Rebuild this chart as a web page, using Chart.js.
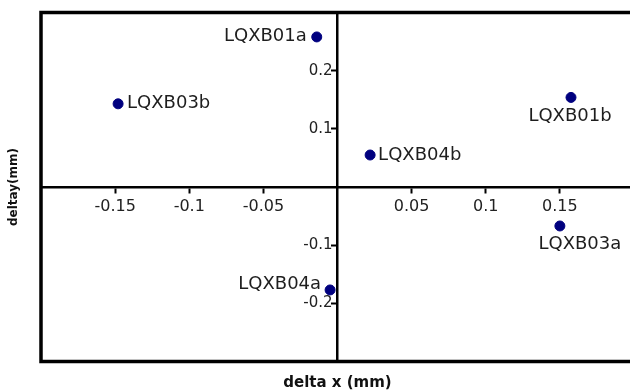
<!DOCTYPE html>
<html>
<head>
<meta charset="utf-8">
<script src="https://cdn.jsdelivr.net/npm/chart.js@4/dist/chart.umd.min.js"></script>
<style>
    html, body { margin: 0; padding: 0; background: #fff; overflow: hidden; }
    #wrap { position: relative; width: 640px; height: 392px; }
</style>
</head>
<body>
<div id="wrap"><canvas id="chart"></canvas></div>
<script>
// readings (mm)
const pointNames = ["LQXB01a", "LQXB03b", "LQXB01b", "LQXB04b", "LQXB03a", "LQXB04a"];
const deltaX = [-0.014, -0.148, 0.1575, 0.022, 0.150, -0.005];
const deltaY = [0.258, 0.143, 0.154, 0.055, -0.067, -0.177];
const xTicks = [-0.15, -0.1, -0.05, 0.05, 0.1, 0.15];
const yTicks = [-0.2, -0.1, 0.1, 0.2];
const xTitle = "delta x (mm)";
const yTitle = "deltay(mm)";

// where each name sits next to its dot: [align, dx, dy]
const labelPlace = [
    ["right", -10, -1],
    ["left", 9, 0],
    ["center", -1, 19],
    ["left", 8, 0],
    ["center", 20, 18],
    ["right", -9, -6]
];

const FONT = "'DejaVu Sans', sans-serif";

const pointLabels = {
    id: "pointLabels",
    afterDatasetsDraw(chart) {
        const ctx = chart.ctx;
        const meta = chart.getDatasetMeta(0);
        ctx.save();
        ctx.font = "18px " + FONT;
        ctx.fillStyle = "#1e1e1e";
        ctx.textBaseline = "middle";
        meta.data.forEach((el, i) => {
            const p = labelPlace[i];
            ctx.textAlign = p[0];
            ctx.fillText(pointNames[i], el.x + p[1], el.y + p[2]);
        });
        ctx.restore();
    }
};

const frame = {
    id: "frame",
    afterDraw(chart) {
        const a = chart.chartArea;
        const ctx = chart.ctx;
        ctx.save();
        ctx.strokeStyle = "#000";
        ctx.lineWidth = 3.5;
        ctx.strokeRect(a.left, a.top, a.right - a.left, a.bottom - a.top);
        ctx.restore();
    }
};

const hiddenAxis = (pos, title, size, pad) => ({
    type: "linear",
    position: pos,
    min: -1, max: 1,
    grid: { display: false, drawTicks: false },
    border: { display: false },
    ticks: { display: false },
    title: {
        display: true,
        text: title,
        color: "#111",
        font: { family: FONT, size: size, weight: "bold", lineHeight: 1.2 },
        padding: pad
    }
});

// both ranges are symmetric, so "center" puts each axis on zero
new Chart(document.getElementById("chart").getContext("2d"), {
    type: "scatter",
    data: {
        datasets: [{
            data: deltaX.map((x, i) => ({ x: x, y: deltaY[i] })),
            backgroundColor: "#00007f",
            borderColor: "#00007f",
            pointRadius: 5,
            pointHoverRadius: 5
        }]
    },
    options: {
        responsive: true,
        maintainAspectRatio: false,
        animation: false,
        events: [],
        layout: { padding: { left: 0, right: 6, top: 12.5, bottom: 0 } },
        plugins: { legend: { display: false }, tooltip: { enabled: false } },
        scales: {
            x: {
                type: "linear",
                min: -0.2, max: 0.2,
                position: "center",
                afterBuildTicks: s => { s.ticks = xTicks.map(v => ({ value: v })); },
                grid: { drawOnChartArea: false, drawTicks: true, tickLength: 5, tickWidth: 2, tickColor: "#000" },
                border: { color: "#000", width: 2.5 },
                ticks: {
                    color: "#222",
                    padding: 5,
                    maxRotation: 0,
                    autoSkip: false,
                    font: { family: FONT, size: 16 },
                    callback: v => String(v)
                }
            },
            y: {
                type: "linear",
                min: -0.3, max: 0.3,
                position: "center",
                afterBuildTicks: s => { s.ticks = yTicks.map(v => ({ value: v })); },
                grid: { drawOnChartArea: false, drawTicks: true, tickLength: 5, tickWidth: 2, tickColor: "#000" },
                border: { color: "#000", width: 2.5 },
                ticks: {
                    color: "#222",
                    padding: 0,
                    autoSkip: false,
                    font: { family: FONT, size: 15 },
                    callback: v => String(v)
                }
            },
            xTitleAxis: hiddenAxis("bottom", xTitle, 15, { top: 12.5, bottom: 0 }),
            yTitleAxis: hiddenAxis("left", yTitle, 12, { top: 7, bottom: 19.6 })
        }
    },
    plugins: [pointLabels, frame]
});
</script>
</body>
</html>
